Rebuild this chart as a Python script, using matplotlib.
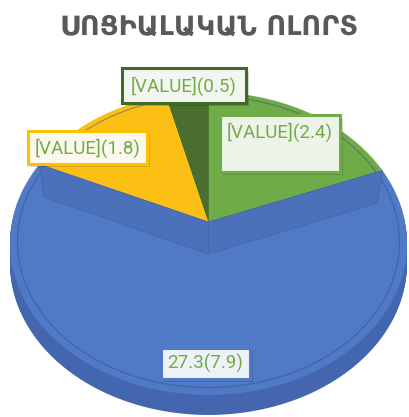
import numpy as np
import matplotlib
matplotlib.use("Agg")
import matplotlib.pyplot as plt
import matplotlib.patheffects as pe
from matplotlib.path import Path
from matplotlib.patches import Rectangle, Circle, Polygon
from matplotlib.transforms import Transform, Affine2D

title = "ՍՈՑԻԱԼԱԿԱՆ ՈԼՈՐՏ"
shares = [2.4, 7.9, 1.8, 0.5]
labels = ["[VALUE](2.4)", "27.3(7.9)", "[VALUE](1.8)", "[VALUE](0.5)"]
top_colors = ["#6fab46", "#5079c6", "#fcc014", "#4a6e30"]
side_colors = ["#527f34", "#4366ae", "#c99712", "#35511f"]
box_edges = ["#70ad47", "#5079c6", "#ffc000", "#416a2a"]
box_faces = ["#eef3ea", "#eef1f8", "#fcf8ee", "#f3f6f0"]

W, H = 410, 417
# perspective view of the pie disc (pixels)
CX, VY = 208.5, 222
A, B, K = 196.5, 148.4, 0.142
DEPTH = 20
BAND = 31


class Tilt(Transform):
    """unit disc -> tilted disc in pixel coords"""
    input_dims = 2
    output_dims = 2

    def __init__(self, drop=0.0):
        super().__init__()
        self.drop = drop

    def transform_non_affine(self, xy):
        xy = np.asarray(xy, dtype=float)
        d = 1 + K * xy[:, 1]
        return np.column_stack([CX + A * xy[:, 0] / d,
                                VY + self.drop - B * xy[:, 1] / d])

    def transform_path_non_affine(self, path):
        polys = path.to_polygons(Affine2D().scale(400), closed_only=True)
        verts = np.concatenate(polys) / 400
        return Path(self.transform_non_affine(verts), closed=True)


fig = plt.figure(figsize=(W / 100, H / 100), dpi=100)
ax = fig.add_axes([0, 0, 1, 1])

# side wall
for drop in np.arange(DEPTH, 0, -1.0):
    wall, _ = ax.pie(shares, colors=side_colors, startangle=90, counterclock=False,
                     wedgeprops=dict(linewidth=0))
    for w in wall:
        w.set_transform(Tilt(drop) + ax.transData)

# top face
wedges, _ = ax.pie(shares, colors=top_colors, startangle=90, counterclock=False,
                   wedgeprops=dict(linewidth=0))
for w in wedges:
    w.set_transform(Tilt() + ax.transData)

# bevel rim line
rim = Circle((0, 0), 0.963, fill=False, edgecolor="#2f4f8f", linewidth=0.8, alpha=0.5)
rim.set_transform(Tilt() + ax.transData)
ax.add_patch(rim)

# darker band along the radial edges of the big slice
big = wedges[1]
tilt = Tilt()
v = tilt.transform(np.array([[0.0, 0.0]]))[0]
for ang in (big.theta1, big.theta2):
    t = np.deg2rad(ang)
    p = tilt.transform(np.array([[np.cos(t), np.sin(t)]]))[0]
    q = p + 0.03 * (v - p) + np.array([0, BAND])
    ax.add_patch(Polygon([v, p, q, v + np.array([0, BAND + 1])], closed=True,
                         facecolor="#4a71b9", edgecolor="#4368ad", linewidth=0.6))

ax.set_xlim(0, W)
ax.set_ylim(H, 0)
ax.set_aspect("auto")
ax.axis("off")

# title
ax.text(W / 2 + 4, 35, title, ha="center", va="baseline", fontsize=19.5,
        fontweight="bold", color="#595959", family="DejaVu Sans")

# data labels: (x0, y0, w, h) boxes and text centres
boxes = [(220, 115, 120, 57), (161, 348, 89, 31), (28, 131, 119, 33), (122, 68, 124, 35)]
text_pos = [(280, 132), (205.5, 363), (87.5, 148), (184, 86)]
shadow = [pe.SimplePatchShadow(offset=(2.5, -2.5), shadow_rgbFace="k", alpha=0.15),
          pe.Normal()]
for i in [1, 2, 0, 3]:
    x0, y0, bw, bh = boxes[i]
    r = Rectangle((x0, y0), bw, bh, facecolor=box_faces[i], edgecolor=box_edges[i],
                  linewidth=2.2, zorder=5)
    r.set_path_effects(shadow)
    ax.add_patch(r)
    ax.text(text_pos[i][0], text_pos[i][1], labels[i], ha="center", va="center",
            fontsize=13.5, color="#70ad47", family="Roboto", fontweight="normal",
            zorder=6)

fig.savefig("out.png", dpi=100)
